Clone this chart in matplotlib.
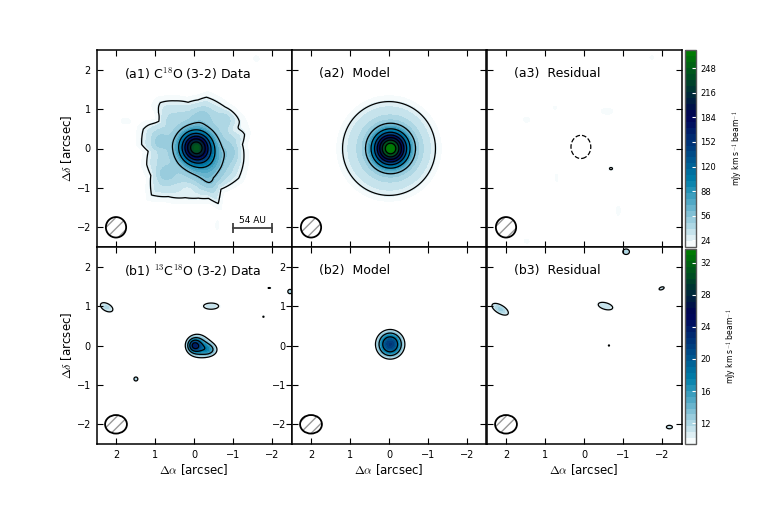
import numpy as np
import matplotlib
matplotlib.use("Agg")
import matplotlib.pyplot as plt
from matplotlib.patches import Ellipse

plt.rcParams['font.family'] = 'DejaVu Sans'
plt.rcParams['mathtext.fontset'] = 'cm'

# map grid in arcsec (RA offset increases to the left)
ra = np.linspace(-2.5, 2.5, 501)
dec = np.linspace(-2.5, 2.5, 501)
RA, DEC = np.meshgrid(ra, dec)
ticks = [2, 1, 0, -1, -2]

# C18O (3-2), mJy km/s/beam
c18o_fill = np.linspace(15, 272, 34)
c18o_lines = [-24, 24, 56, 88, 120, 152, 184, 216, 248]
c18o_cbar_ticks = [24, 56, 88, 120, 152, 184, 216, 248]

# 13C18O (3-2), mJy km/s/beam
c13_fill = np.linspace(9.4, 33.7, 34)
c13_lines = [-10, 10, 14, 18, 22]
c13_cbar_ticks = [12, 16, 20, 24, 28, 32]

# outer edge of the C18O envelope: position angle (deg), radius (arcsec)
a1_edge_pa = [-165.7, -146.7, -133.7, -123.8, -114.0, -106.4, -95.0, -79.7, -61.6, -47.3,
              -31.6, -18.7, -3.4, 4.3, 20.6, 27.9, 37.6, 45.0, 53.4, 68.0, 82.7, 95.0,
              103.8, 114.0, 127.2, 136.8, 149.3, 164.6, 175.3]
a1_edge_r = [1.30, 1.365, 1.273, 1.204, 1.522, 1.313, 1.265, 1.281, 1.387, 1.606,
             1.28, 1.278, 1.172, 1.344, 1.39, 1.324, 1.21, 1.414, 1.458, 1.305, 1.18, 1.235,
             1.34, 1.325, 1.306, 1.33, 1.372, 1.359, 1.224]
a1_env_peak = 42
a2_edge_pa = [0, 180]
a2_edge_r = [1.19, 1.19]
a2_env_peak = 38

# emission components: amplitude, RA, Dec, sigma along pa, sigma across pa, pa (deg)
a1_blobs = [(195, -0.05, 0.03, 0.26, 0.26, 0),
            (28, -0.35, -0.35, 0.30, 0.30, 0),
            (11, 0.74, -0.62, 0.18, 0.15, 0),
            (10, 0.87, 0.19, 0.15, 0.15, 0),
            (9, -0.20, 0.83, 0.20, 0.15, 0),
            (9, -0.80, 0.74, 0.15, 0.15, 0),
            (10, -0.97, -0.07, 0.15, 0.20, 0),
            (9, -0.41, -0.84, 0.20, 0.15, 0),
            (-9, 1.00, 0.83, 0.15, 0.15, 0),
            (-8, -1.05, 0.50, 0.15, 0.12, 0),
            (-8, 0.15, -1.00, 0.20, 0.12, 0),
            (19, -1.60, 2.28, 0.10, 0.10, 0),
            (18, 1.77, 0.70, 0.15, 0.10, 0),
            (17, -0.60, -1.95, 0.08, 0.20, 0)]
a2_blobs = [(235, -0.04, 0.0, 0.284, 0.284, 0)]
a3_blobs = [(-30, 0.08, 0.04, 0.38, 0.44, 0),
            (30, -0.69, -0.51, 0.07, 0.05, 0),
            (18, 1.47, 0.73, 0.12, 0.10, 0),
            (17, 0.74, 1.03, 0.10, 0.08, 0),
            (17, 0.44, 0.73, 0.08, 0.08, 0),
            (19, -0.58, 0.94, 0.25, 0.12, 0),
            (18, 0.70, -0.72, 0.08, 0.25, 0),
            (17, -0.88, -1.58, 0.10, 0.22, 0),
            (17, -1.74, 2.31, 0.10, 0.08, 0),
            (17, 1.47, -2.35, 0.12, 0.10, 0)]
b1_blobs = [(9, 0.0, 0.0, 0.12, 0.12, 0),
            (15, -0.10, 0.0, 0.30, 0.30, 0),
            (8, -0.45, -0.12, 0.20, 0.15, 0),
            (11.8, 2.24, 0.97, 0.30, 0.165, 28),
            (11.3, -0.44, 1.00, 0.385, 0.156, 0),
            (12, 1.49, -0.85, 0.083, 0.083, 0),
            (10.5, -1.93, 1.46, 0.10, 0.035, 0),
            (10.3, -1.78, 0.73, 0.06, 0.06, 0),
            (12, -2.46, 1.37, 0.09, 0.09, 0)]
b2_blobs = [(22, -0.03, 0.03, 0.30, 0.30, 0)]
b3_blobs = [(12.5, 2.15, 0.92, 0.35, 0.16, 30),
            (11.5, -0.55, 1.00, 0.36, 0.16, 15),
            (10.3, -0.64, 0.0, 0.06, 0.06, 0),
            (12, -1.08, 2.38, 0.14, 0.115, 0),
            (11, -1.99, 1.45, 0.155, 0.078, -20),
            (11, -2.19, -2.07, 0.175, 0.10, 0)]

beam_a = (0.52, 0.52)
beam_b = (0.56, 0.47)
scalebar_ra = [-1.0, -2.0]
scalebar_dec = -2.02

titles = ["(a1) C$^{18}$O (3-2) Data", "(a2)  Model", "(a3)  Residual",
          "(b1) $^{13}$C$^{18}$O (3-2) Data", "(b2)  Model", "(b3)  Residual"]


def blob(amp, x0, y0, s1, s2, pa):
    t = np.deg2rad(pa)
    u = (RA - x0) * np.cos(t) + (DEC - y0) * np.sin(t)
    v = -(RA - x0) * np.sin(t) + (DEC - y0) * np.cos(t)
    return amp * np.exp(-0.5 * ((u / s1) ** 2 + (v / s2) ** 2))


def envelope(peak, pa_list, r_list, edge_level=24):
    r = np.hypot(RA, DEC)
    pa = np.degrees(np.arctan2(DEC, RA))
    edge = np.interp(pa, pa_list, r_list, period=360)
    return peak * np.exp(-np.log(peak / edge_level) * (r / edge) ** 6)


def make_map(blobs, env=None):
    z = np.zeros_like(RA)
    for b in blobs:
        z = z + blob(*b)
    if env is not None:
        z = z + envelope(*env)
    return z


maps = [make_map(a1_blobs, (a1_env_peak, a1_edge_pa, a1_edge_r)),
        make_map(a2_blobs, (a2_env_peak, a2_edge_pa, a2_edge_r)),
        make_map(a3_blobs),
        make_map(b1_blobs), make_map(b2_blobs), make_map(b3_blobs)]

fig = plt.figure(figsize=(7.61, 5.08), dpi=100)
fig.patch.set_facecolor('white')

W, H = 761.0, 508.0
x0s = [96.5, 291.5, 486.5]
rows = [(50, 247), (247, 444)]

for k, z in enumerate(maps):
    row, col = divmod(k, 3)
    top, bot = rows[row]
    ax = fig.add_axes([x0s[col] / W, 1 - bot / H, 195 / W, (bot - top) / H])
    fill = c18o_fill if row == 0 else c13_fill
    lines = c18o_lines if row == 0 else c13_lines
    z = np.clip(z, None, fill[-1] - 1e-6)
    cf = ax.contourf(ra, dec, z, levels=fill, cmap='ocean_r')
    ax.contour(ra, dec, z, levels=lines, colors='k', linewidths=0.9)
    ax.set_xlim(2.5, -2.5)
    ax.set_ylim(-2.5, 2.5)
    ax.set_xticks(ticks)
    ax.set_yticks(ticks)
    ax.tick_params(direction='in', top=True, right=True, length=4, width=0.8,
                   labelsize=7, pad=4)
    for sp in ax.spines.values():
        sp.set_linewidth(1.1)
    if row == 0:
        ax.set_xticklabels([])
    else:
        ax.set_xlabel(r"$\Delta\alpha$ [arcsec]", fontsize=8.5, labelpad=2)
    if col == 0:
        ax.set_ylabel(r"$\Delta\delta$ [arcsec]", fontsize=8.5, labelpad=2)
    elif not (row == 1 and col == 1):
        ax.set_yticklabels([])
    ax.text(0.14, 0.88, titles[k], transform=ax.transAxes, fontsize=9, va='center')

    bw, bh = beam_a if row == 0 else beam_b
    ax.add_patch(Ellipse((2.0, -2.0), bw, bh, fill=False, hatch='///',
                         edgecolor='0.6', lw=0))
    ax.add_patch(Ellipse((2.0, -2.0), bw, bh, fill=False, edgecolor='k', lw=1.3))

    if k == 0:
        ax.plot(scalebar_ra, [scalebar_dec] * 2, color='0.25', lw=1.3,
                marker='|', markersize=7, markeredgewidth=1.3)
        ax.text(np.mean(scalebar_ra), scalebar_dec + 0.08, "54 AU", fontsize=6.5,
                ha='center', va='bottom')

    if col == 2:
        ctop, cbot = (50, 247) if row == 0 else (249, 444)
        cax = fig.add_axes([685 / W, 1 - cbot / H, 11 / W, (cbot - ctop) / H])
        cb = fig.colorbar(cf, cax=cax,
                          ticks=c18o_cbar_ticks if row == 0 else c13_cbar_ticks)
        cb.outline.set_edgecolor('0.35')
        cb.outline.set_linewidth(1.0)
        cax.tick_params(direction='in', color='w', length=3, width=0.8,
                        labelsize=6, labelcolor='k', pad=3)
        cb.set_label(r"mJy km s$^{-1}$ beam$^{-1}$", fontsize=5.5, labelpad=10)

fig.savefig("out.png", dpi=100, facecolor='white')
